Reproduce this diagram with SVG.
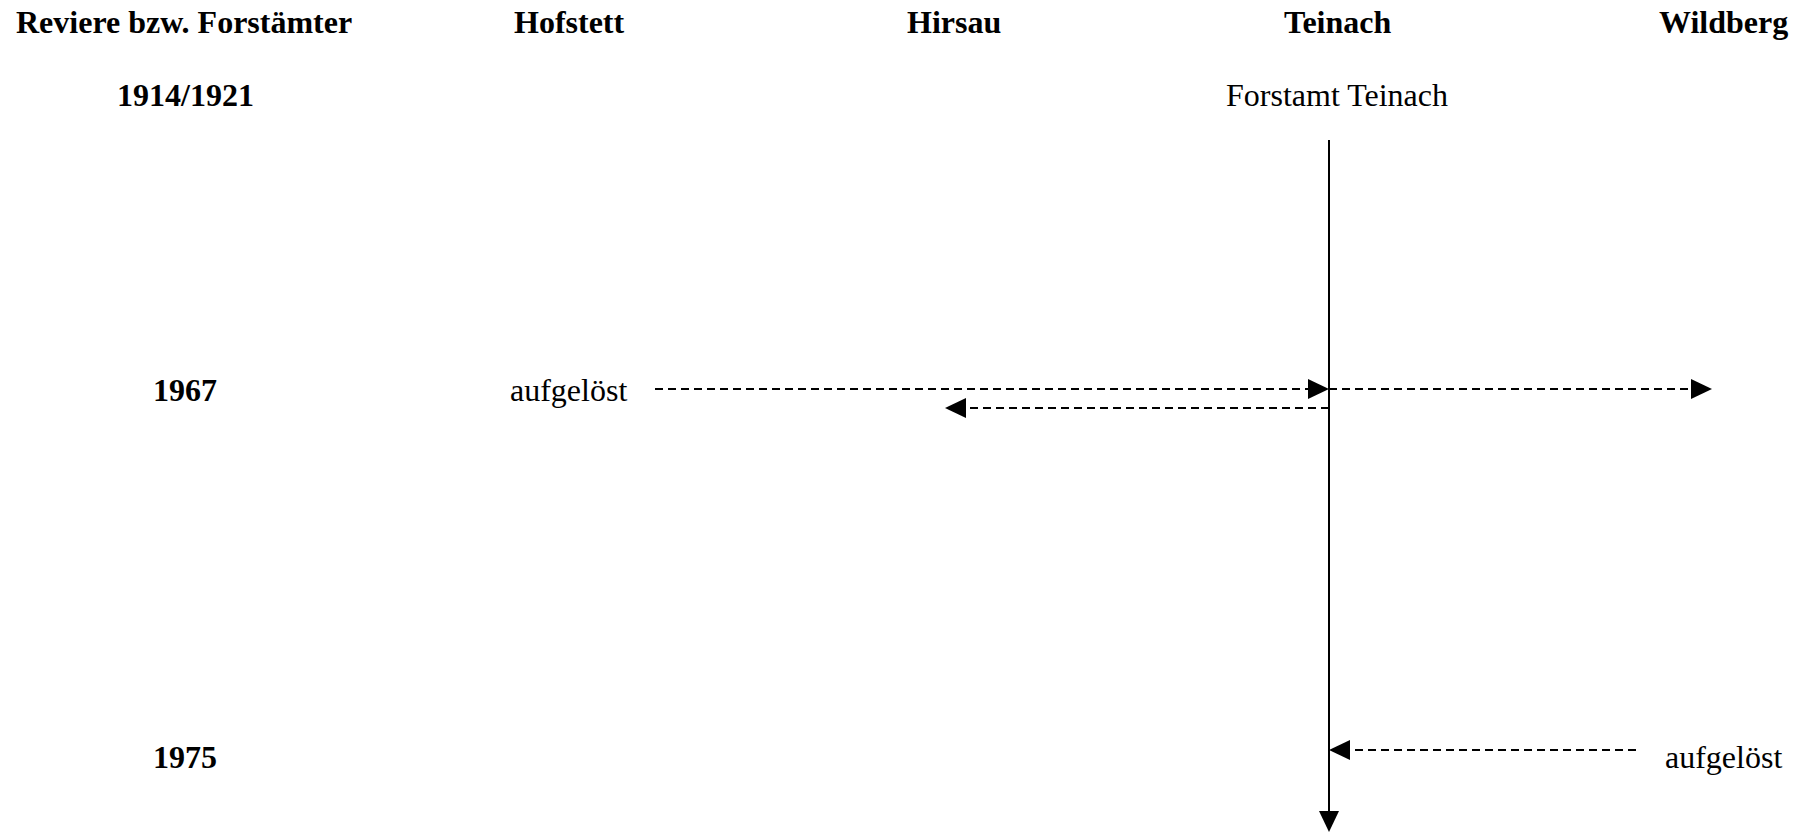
<svg xmlns="http://www.w3.org/2000/svg" width="1802" height="832" viewBox="0 0 1802 832">
  <style>
    text { font-family: "Liberation Serif", "Times New Roman", serif; font-size: 32px; fill: #000; }
    .b { font-weight: bold; }
    .solid { stroke: #000; stroke-width: 2; fill: none; }
    .dash { stroke: #000; stroke-width: 2; fill: none; stroke-dasharray: 8 5; }
  </style>
  <defs>
    <marker id="arr" viewBox="0 0 21 20" refX="0" refY="10" markerWidth="21" markerHeight="20" markerUnits="userSpaceOnUse" orient="auto">
      <path d="M0,0 L21,10 L0,20 Z" fill="#000"/>
    </marker>
  </defs>
  <rect width="1802" height="832" fill="#fff"/>

  <g id="headers">
    <text class="b" x="16" y="33">Reviere bzw. Forstämter</text>
    <text class="b" x="514" y="33">Hofstett</text>
    <text class="b" x="907" y="33">Hirsau</text>
    <text class="b" x="1284" y="33">Teinach</text>
    <text class="b" x="1659" y="33">Wildberg</text>
  </g>
  <g id="years">
    <text class="b" x="117" y="106">1914/1921</text>
    <text class="b" x="153" y="401">1967</text>
    <text class="b" x="153" y="768">1975</text>
  </g>
  <g id="node-forstamt-teinach">
    <text x="1226" y="106">Forstamt Teinach</text>
  </g>
  <g id="node-hofstett-aufgeloest">
    <text x="510" y="401">aufgelöst</text>
  </g>
  <g id="node-wildberg-aufgeloest">
    <text x="1665" y="768">aufgelöst</text>
  </g>

  <g id="connectors">
    <line class="solid" x1="1329" y1="140" x2="1329" y2="811" marker-end="url(#arr)"/>
    <line class="dash" x1="655" y1="389" x2="1308" y2="389" marker-end="url(#arr)"/>
    <line class="dash" x1="1329" y1="389" x2="1691" y2="389" marker-end="url(#arr)"/>
    <line class="dash" x1="1329" y1="408" x2="966" y2="408" marker-end="url(#arr)"/>
    <line class="dash" x1="1636" y1="750" x2="1350" y2="750" marker-end="url(#arr)"/>
  </g>
</svg>
